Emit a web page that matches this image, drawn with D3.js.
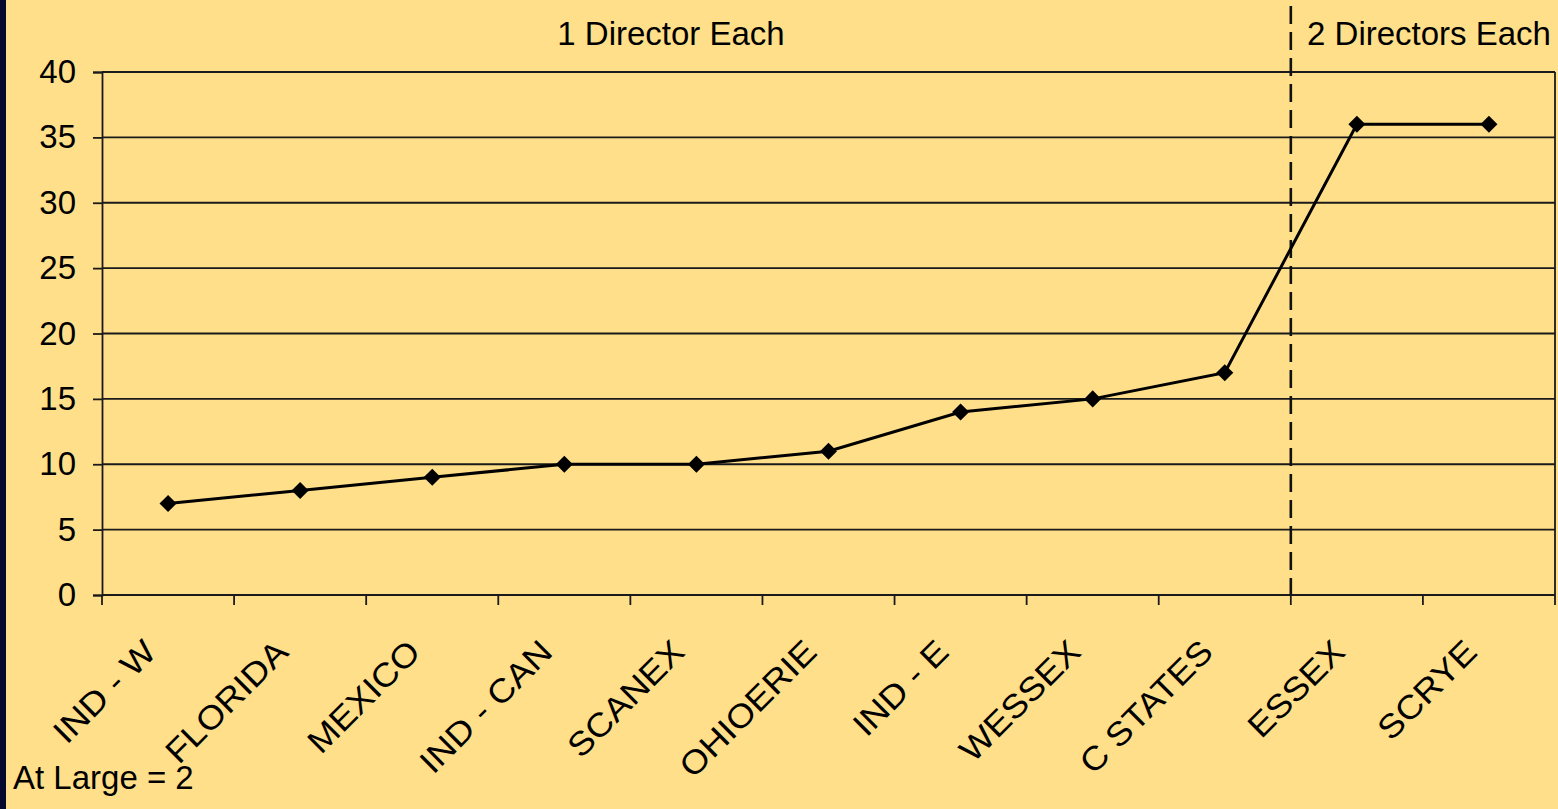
<!DOCTYPE html>
<html><head><meta charset="utf-8">
<script src="https://cdn.jsdelivr.net/npm/d3@7"></script>
<style>
html,body{margin:0;padding:0;background:#FFDF89;}
svg{display:block;}
text{font-family:"Liberation Sans",Arial,sans-serif;fill:#000;}
</style></head>
<body>
<svg id="chart" width="1558" height="809"></svg>
<script>
const categories = ["IND - W","FLORIDA","MEXICO","IND - CAN","SCANEX","OHIOERIE","IND - E","WESSEX","C STATES","ESSEX","SCRYE"];
const values = [7, 8, 9, 10, 10, 11, 14, 15, 17, 36, 36];
const yTicks = [0,5,10,15,20,25,30,35,40];
const groupLabels = ["1 Director Each","2 Directors Each"];
const groupSplit = "ESSEX";
const footnote = "At Large = 2";

const W = 1558, H = 809;
const m = {left:102, right:3, top:72, bottom:214};
const svg = d3.select("#chart");
svg.append("rect").attr("width",W).attr("height",H).attr("fill","#FFDF89");
svg.append("rect").attr("x",0).attr("y",0).attr("width",6).attr("height",H).attr("fill","#08082e");

const x = d3.scaleBand().domain(categories).range([m.left, W-m.right]).padding(0);
const y = d3.scaleLinear().domain([0,40]).range([H-m.bottom, m.top]);
const ink = "#1a1a1a";

// gridlines
svg.append("g").selectAll("line").data(yTicks).join("line")
  .attr("x1",m.left).attr("x2",W-m.right)
  .attr("y1",d=>y(d)).attr("y2",d=>y(d))
  .attr("stroke",ink).attr("stroke-width",1.8);
// right border
svg.append("line").attr("x1",W-m.right).attr("x2",W-m.right).attr("y1",y(40)).attr("y2",y(0))
  .attr("stroke",ink).attr("stroke-width",1.8);

// y axis
const ya = svg.append("g").attr("transform",`translate(${m.left},0)`)
  .call(d3.axisLeft(y).tickValues(yTicks).tickSize(9).tickPadding(17));
ya.select(".domain").attr("stroke",ink).attr("stroke-width",1.8);
ya.selectAll(".tick line").attr("stroke",ink).attr("stroke-width",1.8);
ya.selectAll(".tick text").attr("font-size",33).attr("font-family","Liberation Sans, Arial, sans-serif").attr("fill","#000");

// x axis ticks at band boundaries
const bounds = categories.map(c=>x(c)).concat([x(categories[categories.length-1])+x.bandwidth()]);
svg.append("g").selectAll("line").data(bounds).join("line")
  .attr("x1",d=>d).attr("x2",d=>d).attr("y1",y(0)).attr("y2",y(0)+10)
  .attr("stroke",ink).attr("stroke-width",1.8);

// x labels
svg.append("g").selectAll("text").data(categories).join("text")
  .attr("transform",d=>`translate(${x(d)+x.bandwidth()/2-10},654) rotate(-45) scale(1.1,1)`)
  .attr("text-anchor","end").attr("font-size",33).text(d=>d);

// dashed divider
const xs = x(groupSplit);
svg.append("line").attr("x1",xs).attr("x2",xs).attr("y1",6).attr("y2",y(0))
  .attr("stroke","#111").attr("stroke-width",2.6).attr("stroke-dasharray","18,8");

// group labels
svg.append("text").attr("x",671).attr("y",45).attr("text-anchor","middle").attr("font-size",33).text(groupLabels[0]);
svg.append("text").attr("x",1429).attr("y",45).attr("text-anchor","middle").attr("font-size",33).text(groupLabels[1]);

// line
const data = categories.map((c,i)=>({c, v:values[i]}));
svg.append("path").datum(data)
  .attr("d", d3.line().x(d=>x(d.c)+x.bandwidth()/2).y(d=>y(d.v)))
  .attr("fill","none").attr("stroke","#000").attr("stroke-width",3);
svg.append("g").selectAll("path").data(data).join("path")
  .attr("d", d3.symbol(d3.symbolSquare, 145))
  .attr("transform",d=>`translate(${x(d.c)+x.bandwidth()/2},${y(d.v)}) rotate(45)`)
  .attr("fill","#000");

svg.append("text").attr("x",13).attr("y",789).attr("font-size",33).text(footnote);
</script>
</body></html>
